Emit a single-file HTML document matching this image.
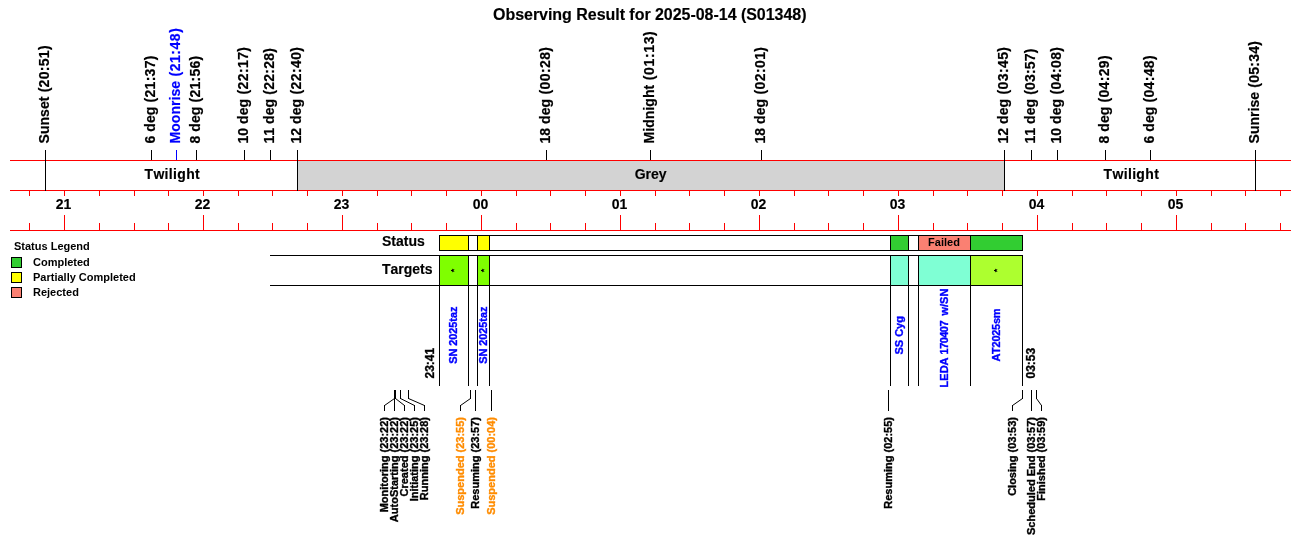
<!DOCTYPE html>
<html><head><meta charset="utf-8"><title>Observing Result</title>
<style>
html,body{margin:0;padding:0;background:#fff;}
svg{display:block;font-family:"Liberation Sans",Arial,sans-serif;font-weight:bold;font-kerning:none;}
rect,polyline{shape-rendering:crispEdges;}
text.r{stroke-width:0.35px;}
text.s{stroke-width:0.2px;}
text.h{stroke-width:0.15px;}
</style></head><body>
<svg width="1300" height="560" viewBox="0 0 1300 560">
<rect x="0" y="0" width="1300" height="560" fill="#ffffff"/>
<text x="493" y="20" font-size="16" fill="#000" text-anchor="start" textLength="313.5" class="h" stroke="#000">Observing Result for 2025-08-14 (S01348)</text>
<rect x="298" y="161" width="706" height="29" fill="#d3d3d3"/>
<rect x="10" y="160" width="1281" height="1" fill="#ff0000"/>
<rect x="10" y="190" width="1281" height="1" fill="#ff0000"/>
<rect x="10" y="230" width="1281" height="1" fill="#ff0000"/>
<rect x="29" y="191" width="1" height="5" fill="#ff0000"/>
<rect x="29" y="223" width="1" height="7" fill="#ff0000"/>
<rect x="64" y="191" width="1" height="5" fill="#ff0000"/>
<rect x="64" y="215" width="1" height="15" fill="#ff0000"/>
<rect x="99" y="191" width="1" height="5" fill="#ff0000"/>
<rect x="99" y="223" width="1" height="7" fill="#ff0000"/>
<rect x="134" y="191" width="1" height="5" fill="#ff0000"/>
<rect x="134" y="223" width="1" height="7" fill="#ff0000"/>
<rect x="168" y="191" width="1" height="5" fill="#ff0000"/>
<rect x="168" y="223" width="1" height="7" fill="#ff0000"/>
<rect x="203" y="191" width="1" height="5" fill="#ff0000"/>
<rect x="203" y="215" width="1" height="15" fill="#ff0000"/>
<rect x="238" y="191" width="1" height="5" fill="#ff0000"/>
<rect x="238" y="223" width="1" height="7" fill="#ff0000"/>
<rect x="272" y="191" width="1" height="5" fill="#ff0000"/>
<rect x="272" y="223" width="1" height="7" fill="#ff0000"/>
<rect x="307" y="191" width="1" height="5" fill="#ff0000"/>
<rect x="307" y="223" width="1" height="7" fill="#ff0000"/>
<rect x="342" y="191" width="1" height="5" fill="#ff0000"/>
<rect x="342" y="215" width="1" height="15" fill="#ff0000"/>
<rect x="377" y="191" width="1" height="5" fill="#ff0000"/>
<rect x="377" y="223" width="1" height="7" fill="#ff0000"/>
<rect x="411" y="191" width="1" height="5" fill="#ff0000"/>
<rect x="411" y="223" width="1" height="7" fill="#ff0000"/>
<rect x="446" y="191" width="1" height="5" fill="#ff0000"/>
<rect x="446" y="223" width="1" height="7" fill="#ff0000"/>
<rect x="481" y="191" width="1" height="5" fill="#ff0000"/>
<rect x="481" y="215" width="1" height="15" fill="#ff0000"/>
<rect x="516" y="191" width="1" height="5" fill="#ff0000"/>
<rect x="516" y="223" width="1" height="7" fill="#ff0000"/>
<rect x="550" y="191" width="1" height="5" fill="#ff0000"/>
<rect x="550" y="223" width="1" height="7" fill="#ff0000"/>
<rect x="585" y="191" width="1" height="5" fill="#ff0000"/>
<rect x="585" y="223" width="1" height="7" fill="#ff0000"/>
<rect x="620" y="191" width="1" height="5" fill="#ff0000"/>
<rect x="620" y="215" width="1" height="15" fill="#ff0000"/>
<rect x="655" y="191" width="1" height="5" fill="#ff0000"/>
<rect x="655" y="223" width="1" height="7" fill="#ff0000"/>
<rect x="689" y="191" width="1" height="5" fill="#ff0000"/>
<rect x="689" y="223" width="1" height="7" fill="#ff0000"/>
<rect x="724" y="191" width="1" height="5" fill="#ff0000"/>
<rect x="724" y="223" width="1" height="7" fill="#ff0000"/>
<rect x="759" y="191" width="1" height="5" fill="#ff0000"/>
<rect x="759" y="215" width="1" height="15" fill="#ff0000"/>
<rect x="794" y="191" width="1" height="5" fill="#ff0000"/>
<rect x="794" y="223" width="1" height="7" fill="#ff0000"/>
<rect x="828" y="191" width="1" height="5" fill="#ff0000"/>
<rect x="828" y="223" width="1" height="7" fill="#ff0000"/>
<rect x="863" y="191" width="1" height="5" fill="#ff0000"/>
<rect x="863" y="223" width="1" height="7" fill="#ff0000"/>
<rect x="898" y="191" width="1" height="5" fill="#ff0000"/>
<rect x="898" y="215" width="1" height="15" fill="#ff0000"/>
<rect x="933" y="191" width="1" height="5" fill="#ff0000"/>
<rect x="933" y="223" width="1" height="7" fill="#ff0000"/>
<rect x="967" y="191" width="1" height="5" fill="#ff0000"/>
<rect x="967" y="223" width="1" height="7" fill="#ff0000"/>
<rect x="1002" y="191" width="1" height="5" fill="#ff0000"/>
<rect x="1002" y="223" width="1" height="7" fill="#ff0000"/>
<rect x="1037" y="191" width="1" height="5" fill="#ff0000"/>
<rect x="1037" y="215" width="1" height="15" fill="#ff0000"/>
<rect x="1072" y="191" width="1" height="5" fill="#ff0000"/>
<rect x="1072" y="223" width="1" height="7" fill="#ff0000"/>
<rect x="1106" y="191" width="1" height="5" fill="#ff0000"/>
<rect x="1106" y="223" width="1" height="7" fill="#ff0000"/>
<rect x="1141" y="191" width="1" height="5" fill="#ff0000"/>
<rect x="1141" y="223" width="1" height="7" fill="#ff0000"/>
<rect x="1176" y="191" width="1" height="5" fill="#ff0000"/>
<rect x="1176" y="215" width="1" height="15" fill="#ff0000"/>
<rect x="1211" y="191" width="1" height="5" fill="#ff0000"/>
<rect x="1211" y="223" width="1" height="7" fill="#ff0000"/>
<rect x="1245" y="191" width="1" height="5" fill="#ff0000"/>
<rect x="1245" y="223" width="1" height="7" fill="#ff0000"/>
<rect x="1280" y="191" width="1" height="5" fill="#ff0000"/>
<rect x="1280" y="223" width="1" height="7" fill="#ff0000"/>
<text x="63.5" y="209" font-size="14" fill="#000" text-anchor="middle" class="h" stroke="#000">21</text>
<text x="202.5" y="209" font-size="14" fill="#000" text-anchor="middle" class="h" stroke="#000">22</text>
<text x="341.5" y="209" font-size="14" fill="#000" text-anchor="middle" class="h" stroke="#000">23</text>
<text x="480.5" y="209" font-size="14" fill="#000" text-anchor="middle" class="h" stroke="#000">00</text>
<text x="619.5" y="209" font-size="14" fill="#000" text-anchor="middle" class="h" stroke="#000">01</text>
<text x="758.5" y="209" font-size="14" fill="#000" text-anchor="middle" class="h" stroke="#000">02</text>
<text x="897.5" y="209" font-size="14" fill="#000" text-anchor="middle" class="h" stroke="#000">03</text>
<text x="1036.5" y="209" font-size="14" fill="#000" text-anchor="middle" class="h" stroke="#000">04</text>
<text x="1175.5" y="209" font-size="14" fill="#000" text-anchor="middle" class="h" stroke="#000">05</text>
<rect x="45" y="150" width="1" height="41" fill="#000000"/>
<text transform="translate(49.3 143.5) rotate(-90)" font-size="14" fill="#000000" text-anchor="start" xml:space="preserve" class="r s" stroke="#000000"><tspan letter-spacing="0.05">Sunset</tspan><tspan letter-spacing="0.293"> (20:51)</tspan></text>
<rect x="151" y="150" width="1" height="10" fill="#000000"/>
<text transform="translate(155.3 143.5) rotate(-90)" font-size="14" fill="#000000" text-anchor="start" xml:space="preserve" class="r s" stroke="#000000"><tspan letter-spacing="0.05">6 deg</tspan><tspan letter-spacing="0.300"> (21:37)</tspan></text>
<rect x="176" y="150" width="1" height="10" fill="#0000ff"/>
<text transform="translate(180.3 143.5) rotate(-90)" font-size="14" fill="#0000ff" text-anchor="start" xml:space="preserve" class="r s" stroke="#0000ff"><tspan letter-spacing="0.05">Moonrise</tspan><tspan letter-spacing="0.527"> (21:48)</tspan></text>
<rect x="196" y="150" width="1" height="10" fill="#000000"/>
<text transform="translate(200.3 143.5) rotate(-90)" font-size="14" fill="#000000" text-anchor="start" xml:space="preserve" class="r s" stroke="#000000"><tspan letter-spacing="0.05">8 deg</tspan><tspan letter-spacing="0.260"> (21:56)</tspan></text>
<rect x="244" y="150" width="1" height="10" fill="#000000"/>
<text transform="translate(248.3 143.5) rotate(-90)" font-size="14" fill="#000000" text-anchor="start" xml:space="preserve" class="r s" stroke="#000000"><tspan letter-spacing="0.05">10 deg</tspan><tspan letter-spacing="0.400"> (22:17)</tspan></text>
<rect x="270" y="150" width="1" height="10" fill="#000000"/>
<text transform="translate(274.3 143.5) rotate(-90)" font-size="14" fill="#000000" text-anchor="start" xml:space="preserve" class="r s" stroke="#000000"><tspan letter-spacing="0.05">11 deg</tspan><tspan letter-spacing="0.253"> (22:28)</tspan></text>
<rect x="297" y="150" width="1" height="41" fill="#000000"/>
<text transform="translate(301.3 143.5) rotate(-90)" font-size="14" fill="#000000" text-anchor="start" xml:space="preserve" class="r s" stroke="#000000"><tspan letter-spacing="0.05">12 deg</tspan><tspan letter-spacing="0.400"> (22:40)</tspan></text>
<rect x="546" y="150" width="1" height="10" fill="#000000"/>
<text transform="translate(550.3 143.5) rotate(-90)" font-size="14" fill="#000000" text-anchor="start" xml:space="preserve" class="r s" stroke="#000000"><tspan letter-spacing="0.05">18 deg</tspan><tspan letter-spacing="0.400"> (00:28)</tspan></text>
<rect x="650" y="150" width="1" height="10" fill="#000000"/>
<text transform="translate(654.3 143.5) rotate(-90)" font-size="14" fill="#000000" text-anchor="start" xml:space="preserve" class="r s" stroke="#000000"><tspan letter-spacing="0.05">Midnight</tspan><tspan letter-spacing="0.640"> (01:13)</tspan></text>
<rect x="761" y="150" width="1" height="10" fill="#000000"/>
<text transform="translate(765.3 143.5) rotate(-90)" font-size="14" fill="#000000" text-anchor="start" xml:space="preserve" class="r s" stroke="#000000"><tspan letter-spacing="0.05">18 deg</tspan><tspan letter-spacing="0.400"> (02:01)</tspan></text>
<rect x="1004" y="150" width="1" height="41" fill="#000000"/>
<text transform="translate(1008.3 143.5) rotate(-90)" font-size="14" fill="#000000" text-anchor="start" xml:space="preserve" class="r s" stroke="#000000"><tspan letter-spacing="0.05">12 deg</tspan><tspan letter-spacing="0.400"> (03:45)</tspan></text>
<rect x="1031" y="150" width="1" height="10" fill="#000000"/>
<text transform="translate(1035.3 143.5) rotate(-90)" font-size="14" fill="#000000" text-anchor="start" xml:space="preserve" class="r s" stroke="#000000"><tspan letter-spacing="0.05">11 deg</tspan><tspan letter-spacing="0.173"> (03:57)</tspan></text>
<rect x="1057" y="150" width="1" height="10" fill="#000000"/>
<text transform="translate(1061.3 143.5) rotate(-90)" font-size="14" fill="#000000" text-anchor="start" xml:space="preserve" class="r s" stroke="#000000"><tspan letter-spacing="0.05">10 deg</tspan><tspan letter-spacing="0.400"> (04:08)</tspan></text>
<rect x="1105" y="150" width="1" height="10" fill="#000000"/>
<text transform="translate(1109.3 143.5) rotate(-90)" font-size="14" fill="#000000" text-anchor="start" xml:space="preserve" class="r s" stroke="#000000"><tspan letter-spacing="0.05">8 deg</tspan><tspan letter-spacing="0.313"> (04:29)</tspan></text>
<rect x="1150" y="150" width="1" height="10" fill="#000000"/>
<text transform="translate(1154.3 143.5) rotate(-90)" font-size="14" fill="#000000" text-anchor="start" xml:space="preserve" class="r s" stroke="#000000"><tspan letter-spacing="0.05">6 deg</tspan><tspan letter-spacing="0.313"> (04:48)</tspan></text>
<rect x="1255" y="150" width="1" height="41" fill="#000000"/>
<text transform="translate(1259.3 143.5) rotate(-90)" font-size="14" fill="#000000" text-anchor="start" xml:space="preserve" class="r s" stroke="#000000"><tspan letter-spacing="0.05">Sunrise</tspan><tspan letter-spacing="0.233"> (05:34)</tspan></text>
<text x="172.1" y="179" font-size="14" fill="#000" text-anchor="middle" textLength="55.2" class="h" stroke="#000">Twilight</text>
<text x="650.7" y="179" font-size="14" fill="#000" text-anchor="middle" class="h" stroke="#000">Grey</text>
<text x="1131.2" y="179" font-size="14" fill="#000" text-anchor="middle" textLength="55.2" class="h" stroke="#000">Twilight</text>
<text x="14" y="250" font-size="11" fill="#000" text-anchor="start">Status Legend</text>
<rect x="11" y="257" width="11" height="11" fill="#000000"/>
<rect x="12" y="258" width="9" height="9" fill="#32cd32"/>
<text x="33" y="266" font-size="11" fill="#000" text-anchor="start">Completed</text>
<rect x="11" y="272" width="11" height="11" fill="#000000"/>
<rect x="12" y="273" width="9" height="9" fill="#ffff00"/>
<text x="33" y="281" font-size="11" fill="#000" text-anchor="start">Partially Completed</text>
<rect x="11" y="287" width="11" height="11" fill="#000000"/>
<rect x="12" y="288" width="9" height="9" fill="#fa8072"/>
<text x="33" y="296" font-size="11" fill="#000" text-anchor="start">Rejected</text>
<text x="382" y="246" font-size="14" fill="#000" text-anchor="start" class="h" stroke="#000">Status</text>
<text x="382" y="274" font-size="14" fill="#000" text-anchor="start" class="h" stroke="#000">Targets</text>
<rect x="439" y="235" width="584" height="16" fill="#000000"/>
<rect x="440" y="236" width="582" height="14" fill="#fff"/>
<rect x="270" y="255" width="753" height="1" fill="#000000"/>
<rect x="270" y="285" width="753" height="1" fill="#000000"/>
<rect x="440" y="236" width="28" height="14" fill="#ffff00"/>
<rect x="440" y="256" width="28" height="29" fill="#7fff00"/>
<rect x="478" y="236" width="11" height="14" fill="#ffff00"/>
<rect x="478" y="256" width="11" height="29" fill="#7fff00"/>
<rect x="891" y="236" width="17" height="14" fill="#32cd32"/>
<rect x="891" y="256" width="17" height="29" fill="#7fffd4"/>
<rect x="919" y="236" width="51" height="14" fill="#fa8072"/>
<rect x="919" y="256" width="51" height="29" fill="#7fffd4"/>
<rect x="971" y="236" width="51" height="14" fill="#32cd32"/>
<rect x="971" y="256" width="51" height="29" fill="#adff2f"/>
<rect x="439" y="235" width="1" height="16" fill="#000000"/>
<rect x="439" y="255" width="1" height="131" fill="#000000"/>
<rect x="468" y="235" width="1" height="16" fill="#000000"/>
<rect x="468" y="255" width="1" height="131" fill="#000000"/>
<rect x="477" y="235" width="1" height="16" fill="#000000"/>
<rect x="477" y="255" width="1" height="131" fill="#000000"/>
<rect x="489" y="235" width="1" height="16" fill="#000000"/>
<rect x="489" y="255" width="1" height="131" fill="#000000"/>
<rect x="890" y="235" width="1" height="16" fill="#000000"/>
<rect x="890" y="255" width="1" height="131" fill="#000000"/>
<rect x="908" y="235" width="1" height="16" fill="#000000"/>
<rect x="908" y="255" width="1" height="131" fill="#000000"/>
<rect x="918" y="235" width="1" height="16" fill="#000000"/>
<rect x="918" y="255" width="1" height="131" fill="#000000"/>
<rect x="970" y="235" width="1" height="16" fill="#000000"/>
<rect x="970" y="255" width="1" height="131" fill="#000000"/>
<rect x="1022" y="235" width="1" height="16" fill="#000000"/>
<rect x="1022" y="255" width="1" height="131" fill="#000000"/>
<text x="944" y="246" font-size="11" fill="#000" text-anchor="middle">Failed</text>
<text transform="translate(456.79999999999995 270.5) rotate(-90)" font-size="9" fill="#000" text-anchor="middle">*</text>
<text transform="translate(486.79999999999995 270.5) rotate(-90)" font-size="9" fill="#000" text-anchor="middle">*</text>
<text transform="translate(999.5 270.5) rotate(-90)" font-size="9" fill="#000" text-anchor="middle">*</text>
<text transform="translate(457.0 335.2) rotate(-90)" font-size="11" fill="#0000ff" text-anchor="middle" class="r" textLength="57.2" stroke="#0000ff">SN 2025taz</text>
<text transform="translate(486.5 335.2) rotate(-90)" font-size="11" fill="#0000ff" text-anchor="middle" class="r" textLength="57.2" stroke="#0000ff">SN 2025taz</text>
<text transform="translate(902.5 335.3) rotate(-90)" font-size="11" fill="#0000ff" text-anchor="middle" class="r" stroke="#0000ff">SS Cyg</text>
<text transform="translate(948.1 387.4) rotate(-90)" font-size="11" fill="#0000ff" text-anchor="start" xml:space="preserve" class="r" stroke="#0000ff">LEDA <tspan letter-spacing="-0.55">170407</tspan><tspan dx="2.4"> w/SN</tspan></text>
<text transform="translate(999.5 335.0) rotate(-90)" font-size="11" fill="#0000ff" text-anchor="middle" class="r" textLength="53.2" stroke="#0000ff">AT2025sm</text>
<text transform="translate(434.2 378.5) rotate(-90)" font-size="12" fill="#000" text-anchor="start" class="r" stroke="#000">23:41</text>
<text transform="translate(1034.9 378.5) rotate(-90)" font-size="12" fill="#000" text-anchor="start" class="r" stroke="#000">03:53</text>
<rect x="394" y="390" width="1" height="9" fill="#000000"/>
<rect x="384" y="405" width="1" height="6" fill="#000000"/>
<line class="aa" x1="394.5" y1="398.5" x2="384.5" y2="405.5" stroke="#000" stroke-width="1"/>
<text transform="translate(388.3 417) rotate(-90)" font-size="11" fill="#000000" text-anchor="end" class="r" stroke="#000000">Monitoring (23:22)</text>
<rect x="394" y="390" width="1" height="21" fill="#000000"/>
<text transform="translate(398.3 417) rotate(-90)" font-size="11" fill="#000000" text-anchor="end" class="r" stroke="#000000">AutoStarting (23:22)</text>
<rect x="395" y="390" width="1" height="9" fill="#000000"/>
<rect x="404" y="405" width="1" height="6" fill="#000000"/>
<line class="aa" x1="395.5" y1="398.5" x2="404.5" y2="405.5" stroke="#000" stroke-width="1"/>
<text transform="translate(408.3 417) rotate(-90)" font-size="11" fill="#000000" text-anchor="end" class="r" stroke="#000000">Created (23:22)</text>
<rect x="400" y="390" width="1" height="9" fill="#000000"/>
<rect x="414" y="405" width="1" height="6" fill="#000000"/>
<line class="aa" x1="400.5" y1="398.5" x2="414.5" y2="405.5" stroke="#000" stroke-width="1"/>
<text transform="translate(418.3 417) rotate(-90)" font-size="11" fill="#000000" text-anchor="end" class="r" stroke="#000000">Initiating (23:25)</text>
<rect x="408" y="390" width="1" height="9" fill="#000000"/>
<rect x="424" y="405" width="1" height="6" fill="#000000"/>
<line class="aa" x1="408.5" y1="398.5" x2="424.5" y2="405.5" stroke="#000" stroke-width="1"/>
<text transform="translate(428.3 417) rotate(-90)" font-size="11" fill="#000000" text-anchor="end" class="r" stroke="#000000">Running (23:28)</text>
<rect x="470" y="390" width="1" height="9" fill="#000000"/>
<rect x="460" y="405" width="1" height="6" fill="#000000"/>
<line class="aa" x1="470.5" y1="398.5" x2="460.5" y2="405.5" stroke="#000" stroke-width="1"/>
<text transform="translate(464.3 417) rotate(-90)" font-size="11" fill="#ff8c00" text-anchor="end" class="r" stroke="#ff8c00">Suspended (23:55)</text>
<rect x="475" y="390" width="1" height="21" fill="#000000"/>
<text transform="translate(479.3 417) rotate(-90)" font-size="11" fill="#000000" text-anchor="end" class="r" stroke="#000000">Resuming (23:57)</text>
<rect x="491" y="390" width="1" height="21" fill="#000000"/>
<text transform="translate(495.3 417) rotate(-90)" font-size="11" fill="#ff8c00" text-anchor="end" class="r" stroke="#ff8c00">Suspended (00:04)</text>
<rect x="888" y="390" width="1" height="21" fill="#000000"/>
<text transform="translate(892.3 417) rotate(-90)" font-size="11" fill="#000000" text-anchor="end" class="r" stroke="#000000">Resuming (02:55)</text>
<rect x="1022" y="390" width="1" height="9" fill="#000000"/>
<rect x="1012" y="405" width="1" height="6" fill="#000000"/>
<line class="aa" x1="1022.5" y1="398.5" x2="1012.5" y2="405.5" stroke="#000" stroke-width="1"/>
<text transform="translate(1016.3 417) rotate(-90)" font-size="11" fill="#000000" text-anchor="end" class="r" stroke="#000000">Closing (03:53)</text>
<rect x="1031" y="390" width="1" height="21" fill="#000000"/>
<text transform="translate(1035.3 417) rotate(-90)" font-size="11" fill="#000000" text-anchor="end" class="r" stroke="#000000">Scheduled End (03:57)</text>
<rect x="1036" y="390" width="1" height="9" fill="#000000"/>
<rect x="1041" y="405" width="1" height="6" fill="#000000"/>
<line class="aa" x1="1036.5" y1="398.5" x2="1041.5" y2="405.5" stroke="#000" stroke-width="1"/>
<text transform="translate(1045.3 417) rotate(-90)" font-size="11" fill="#000000" text-anchor="end" class="r" stroke="#000000">Finished (03:59)</text>
</svg>
</body></html>
